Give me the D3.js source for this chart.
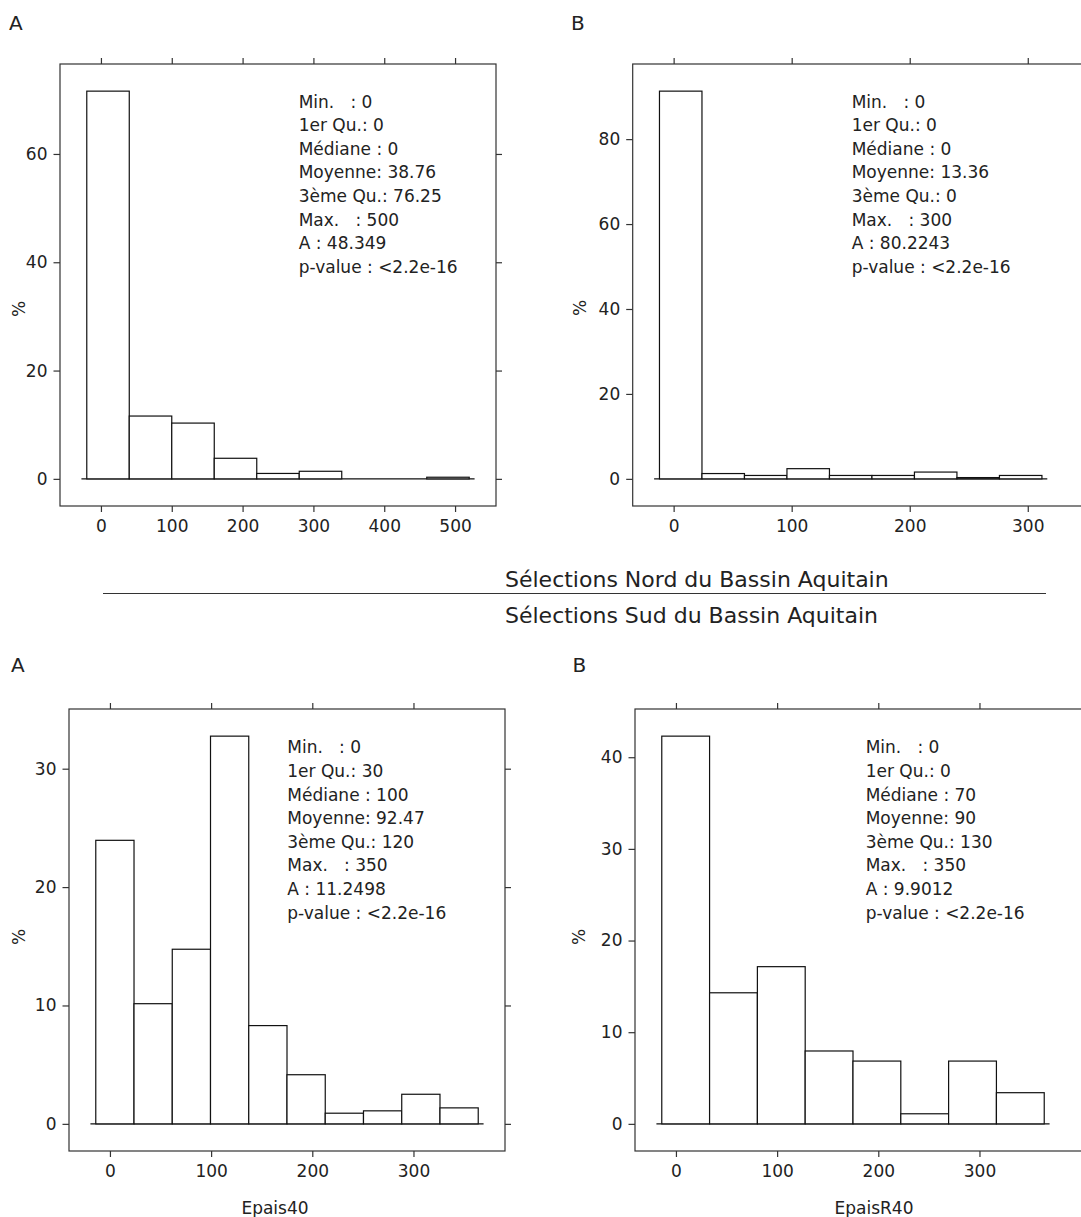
<!DOCTYPE html>
<html>
<head>
<meta charset="utf-8">
<script src="https://cdn.jsdelivr.net/npm/d3@7"></script>
<style>
  body { margin: 0; background: #fff; }
  text { font-family: "DejaVu Sans", sans-serif; fill: #222; }
  .stats text { white-space: pre; }
</style>
</head>
<body>
<div id="container"></div>
<script>
// Données (histogrammes en %)
var breaksNordA = [-20, 40, 100, 160, 220, 280, 340, 400, 460, 520];
var pctNordA    = [71.6, 11.6, 10.3, 3.8, 1.0, 1.4, 0, 0, 0.3];
var xTicksNordA = [0, 100, 200, 300, 400, 500];
var yTicksNordA = [0, 20, 40, 60];
var statsNordA  = ["Min.   : 0", "1er Qu.: 0", "Médiane : 0", "Moyenne: 38.76",
                   "3ème Qu.: 76.25", "Max.   : 500", "A : 48.349", "p-value : <2.2e-16"];

var breaksNordB = [-12, 24, 60, 96, 132, 168, 204, 240, 276, 312];
var pctNordB    = [91.3, 1.25, 0.8, 2.4, 0.8, 0.8, 1.6, 0.3, 0.8];
var xTicksNordB = [0, 100, 200, 300];
var yTicksNordB = [0, 20, 40, 60, 80];
var statsNordB  = ["Min.   : 0", "1er Qu.: 0", "Médiane : 0", "Moyenne: 13.36",
                   "3ème Qu.: 0", "Max.   : 300", "A : 80.2243", "p-value : <2.2e-16"];

var breaksSudA = [-14, 23.8, 61.6, 99.4, 137.2, 175, 212.8, 250.6, 288.4, 326.2, 364];
var pctSudA    = [23.95, 10.15, 14.75, 32.75, 8.3, 4.15, 0.9, 1.1, 2.5, 1.35];
var xTicksSudA = [0, 100, 200, 300];
var yTicksSudA = [0, 10, 20, 30];
var statsSudA  = ["Min.   : 0", "1er Qu.: 30", "Médiane : 100", "Moyenne: 92.47",
                  "3ème Qu.: 120", "Max.   : 350", "A : 11.2498", "p-value : <2.2e-16"];

var breaksSudB = [-14, 33.25, 80.5, 127.75, 175, 222.25, 269.5, 316.75, 364];
var pctSudB    = [42.3, 14.3, 17.15, 7.95, 6.85, 1.1, 6.85, 3.4];
var xTicksSudB = [0, 100, 200, 300];
var yTicksSudB = [0, 10, 20, 30, 40];
var statsSudB  = ["Min.   : 0", "1er Qu.: 0", "Médiane : 70", "Moyenne: 90",
                  "3ème Qu.: 130", "Max.   : 350", "A : 9.9012", "p-value : <2.2e-16"];

var titreNord = "Sélections Nord du Bassin Aquitain";
var titreSud  = "Sélections Sud du Bassin Aquitain";

var w = 1081;
var h = 1217;

var svg = d3.select("div#container")
            .append("svg")
            .attr("width", w)
            .attr("height", h);

function etendre(a, b, f) {
    var d = (b - a) * f;
    return [a - d, b + d];
}

function dessinerPanneau(p) {
    var g = svg.append("g");
    var n = p.pct.length;
    var bins = [];
    for (var i = 0; i < n; i++) {
        bins.push({x0: p.breaks[i], x1: p.breaks[i + 1], v: p.pct[i]});
    }

    var x = d3.scaleLinear()
              .domain(etendre(p.breaks[0], p.breaks[n], 0.07))
              .range([p.left, p.left + 436]);
    var y = d3.scaleLinear()
              .domain(etendre(0, d3.max(p.pct), 0.07))
              .range([p.top + 442, p.top]);

    // cadre (les panneaux de droite sont coupés par le bord de l'image)
    var droite = p.coupe ? w + 10 : x.range()[1];
    g.append("rect")
        .attr("x", p.left)
        .attr("y", p.top)
        .attr("width", droite - p.left)
        .attr("height", 442)
        .attr("fill", "none")
        .attr("stroke", "#333")
        .attr("stroke-width", 1.2);

    var axeBas = d3.axisBottom(x).tickValues(p.xTicks).tickSize(6).tickPadding(8);
    var axeHaut = d3.axisTop(x).tickValues(p.xTicks).tickSize(6).tickFormat("");
    var axeGauche = d3.axisLeft(y).tickValues(p.yTicks).tickSize(6.5).tickPadding(6);
    var axeDroite = d3.axisRight(y).tickValues(p.yTicks).tickSize(6).tickFormat("");

    var gb = g.append("g").attr("transform", "translate(0," + (p.top + 442) + ")").call(axeBas);
    var gh = g.append("g").attr("transform", "translate(0," + p.top + ")").call(axeHaut);
    var gg = g.append("g").attr("transform", "translate(" + p.left + ",0)").call(axeGauche);
    var gd = g.append("g").attr("transform", "translate(" + x.range()[1] + ",0)").call(axeDroite);
    [gb, gh, gg, gd].forEach(function(a) {
        a.select(".domain").remove();
        a.selectAll("line").attr("stroke", "#333").attr("stroke-width", 1.2);
        a.selectAll("text").style("font-size", "17px").style("font-family", "DejaVu Sans").attr("fill", "#222");
    });
    if (p.coupe) gd.remove();

    // ligne de base à 0
    var ext = (p.breaks[n] - p.breaks[0]) * 0.014;
    g.append("line")
        .attr("x1", x(p.breaks[0] - ext))
        .attr("x2", x(p.breaks[n] + ext))
        .attr("y1", y(0))
        .attr("y2", y(0))
        .attr("stroke", "#111")
        .attr("stroke-width", 1.2);

    g.selectAll("rect.barre")
        .data(bins)
        .enter()
        .append("rect")
        .attr("class", "barre")
        .attr("x", function(d) { return x(d.x0); })
        .attr("y", function(d) { return y(d.v); })
        .attr("width", function(d) { return x(d.x1) - x(d.x0); })
        .attr("height", function(d) { return y(0) - y(d.v); })
        .attr("fill", "white")
        .attr("stroke", "#111")
        .attr("stroke-width", 1.2);

    // résumé statistique
    g.append("g").attr("class", "stats")
        .selectAll("text")
        .data(p.stats)
        .enter()
        .append("text")
        .attr("x", p.statX)
        .attr("y", function(d, i) { return p.statY + i * 23.6; })
        .style("font-size", "17px")
        .text(function(d) { return d; });

    g.append("text")
        .attr("x", p.lettreX)
        .attr("y", p.lettreY)
        .style("font-size", "20px")
        .text(p.lettre);

    g.append("text")
        .attr("transform", "translate(" + p.pctX + "," + p.pctY + ") rotate(-90)")
        .attr("text-anchor", "middle")
        .attr("dy", "0.35em")
        .style("font-size", "17px")
        .text("%");

    if (p.titreX) {
        g.append("text")
            .attr("x", p.titreXPos)
            .attr("y", p.top + 442 + 62.5)
            .attr("text-anchor", "middle")
            .style("font-size", "17px")
            .text(p.titreX);
    }
}

dessinerPanneau({breaks: breaksNordA, pct: pctNordA, xTicks: xTicksNordA, yTicks: yTicksNordA,
    stats: statsNordA, left: 60, top: 64, statX: 298.7, statY: 107.5,
    lettre: "A", lettreX: 9, lettreY: 30, pctX: 19, pctY: 309});
dessinerPanneau({breaks: breaksNordB, pct: pctNordB, xTicks: xTicksNordB, yTicks: yTicksNordB,
    stats: statsNordB, left: 632.7, top: 64, statX: 851.7, statY: 107.5, coupe: true,
    lettre: "B", lettreX: 571, lettreY: 30, pctX: 580, pctY: 308});
dessinerPanneau({breaks: breaksSudA, pct: pctSudA, xTicks: xTicksSudA, yTicks: yTicksSudA,
    stats: statsSudA, left: 69, top: 709, statX: 287.3, statY: 753.3,
    lettre: "A", lettreX: 11, lettreY: 671.5, pctX: 19, pctY: 937,
    titreX: "Epais40", titreXPos: 275});
dessinerPanneau({breaks: breaksSudB, pct: pctSudB, xTicks: xTicksSudB, yTicks: yTicksSudB,
    stats: statsSudB, left: 635, top: 709, statX: 865.7, statY: 753.3, coupe: true,
    lettre: "B", lettreX: 572.5, lettreY: 671.5, pctX: 579, pctY: 937,
    titreX: "EpaisR40", titreXPos: 874});

// séparation Nord / Sud
svg.append("line")
    .attr("x1", 103).attr("x2", 1046)
    .attr("y1", 593.5).attr("y2", 593.5)
    .attr("stroke", "#333")
    .attr("stroke-width", 1.2);
svg.append("text")
    .attr("x", 505).attr("y", 587)
    .style("font-size", "22px")
    .text(titreNord);
svg.append("text")
    .attr("x", 505).attr("y", 623)
    .style("font-size", "22px")
    .text(titreSud);
</script>
</body>
</html>
